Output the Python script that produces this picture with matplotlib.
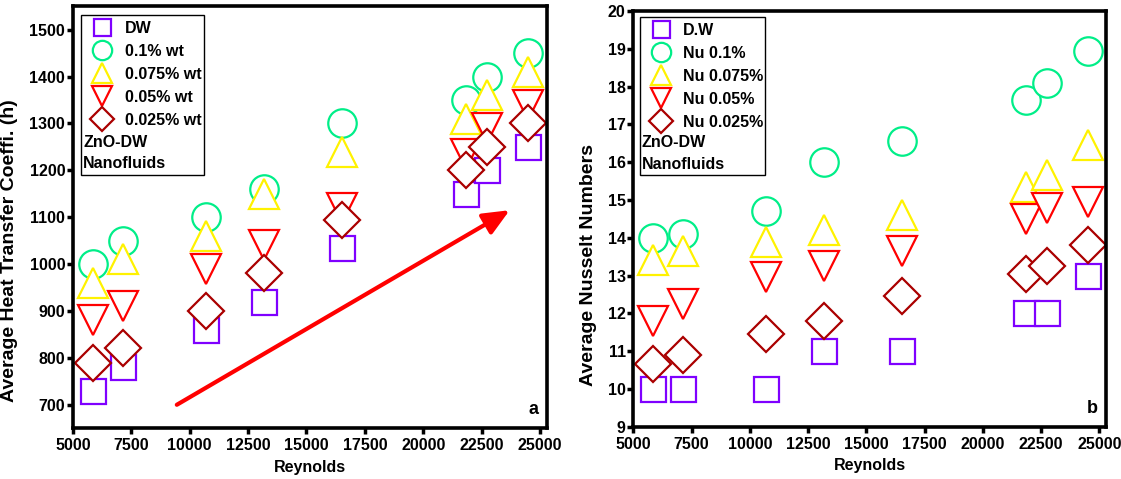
import matplotlib.pyplot as plt
from matplotlib.patches import Rectangle

plt.rcParams['font.family'] = ['Liberation Sans', 'DejaVu Sans']
plt.rcParams['font.weight'] = 'bold'
plt.rcParams['axes.labelweight'] = 'bold'

# Reynolds numbers shared by both panels
reynolds = [5850, 7130, 10680, 13200, 16540, 21840, 22740, 24500]

# Panel a: average heat transfer coefficient (h)
h_dw = [730, 780, 860, 920, 1035, 1150, 1200, 1250]
h_01 = [1000, 1050, 1100, 1160, 1300, 1350, 1400, 1450]
h_0075 = [960, 1010, 1060, 1150, 1240, 1310, 1360, 1410]
h_005 = [880, 910, 990, 1040, 1120, 1235, 1290, 1340]
h_0025 = [790, 822, 900, 980, 1095, 1200, 1250, 1300]

# Panel b: average Nusselt numbers
nu_dw = [10, 10, 10, 11, 11, 12, 12, 13]
nu_01 = [14.0, 14.1, 14.7, 16.0, 16.55, 17.65, 18.1, 18.95]
nu_0075 = [13.4, 13.65, 13.9, 14.2, 14.6, 15.35, 15.65, 16.45]
nu_005 = [11.8, 12.25, 12.95, 13.25, 13.65, 14.5, 14.8, 14.95]
nu_0025 = [10.65, 10.9, 11.45, 11.8, 12.45, 13.05, 13.25, 13.8]

labels_a = ['DW', '0.1% wt', '0.075% wt', '0.05% wt', '0.025% wt']
labels_b = ['D.W', 'Nu 0.1%', 'Nu 0.075%', 'Nu 0.05%', 'Nu 0.025%']

markers = ['s', 'o', '^', 'v', 'D']
sizes = [18, 20.5, 22, 22, 18]
colors = ['#7F00FF', '#00EE88', '#FFF200', '#FF0000', '#AA0000']

fig = plt.figure(figsize=(11.21, 4.79), dpi=100)
ax1 = fig.add_axes([0.065, 0.106, 0.423, 0.881])
ax2 = fig.add_axes([0.565, 0.109, 0.422, 0.868])


def draw_panel(ax, series, labels, ylim, yticks, ylabel, letter, leg_anchor, box, txt_y):
    for ys, lab, m, s, c in zip(series, labels, markers, sizes, colors):
        ax.plot(reynolds, ys, linestyle='none', marker=m, markersize=s,
                markerfacecolor='white', markeredgecolor=c, markeredgewidth=1.6,
                label=lab)
    ax.set_xlim(5000, 25300)
    ax.set_ylim(*ylim)
    ax.set_xticks(range(5000, 25001, 2500))
    ax.set_yticks(yticks)
    for sp in ax.spines.values():
        sp.set_linewidth(2.6)
    ax.tick_params(axis='both', direction='out', length=4, width=2.5,
                   labelsize=11.5, top=False, right=False)
    ax.tick_params(axis='x', pad=3)
    ax.tick_params(axis='y', pad=1.5)
    ax.set_xlabel('Reynolds', fontsize=11.5)
    ax.set_ylabel(ylabel, fontsize=14)
    ax.xaxis.set_label_coords(0.5, -0.075)

    ax.legend(loc='upper left', bbox_to_anchor=leg_anchor, frameon=False,
              fontsize=11.5, handlelength=1.5, handletextpad=0.65,
              labelspacing=0.5, borderpad=0, borderaxespad=0,
              markerscale=0.68)
    ax.add_patch(Rectangle((box[0], box[1]), box[2], box[3], transform=ax.transAxes,
                           fill=False, edgecolor='black', linewidth=1, zorder=5))
    ax.text(box[0] + 0.005, txt_y[0], 'ZnO-DW', transform=ax.transAxes,
            fontsize=11.5, va='center', ha='left')
    ax.text(box[0] + 0.005, txt_y[1], 'Nanofluids', transform=ax.transAxes,
            fontsize=11.5, va='center', ha='left')
    ax.text(0.981, 0.024, letter, transform=ax.transAxes, fontsize=13,
            ha='right', va='bottom')


draw_panel(ax1, [h_dw, h_01, h_0075, h_005, h_0025], labels_a,
           (650, 1550), range(700, 1501, 100),
           'Average Heat Transfer Coeffi. (h)', 'a',
           (0.037, 0.965), (0.017, 0.600, 0.26, 0.379), (0.678, 0.628))
ax1.yaxis.set_label_coords(-0.116, 0.42)

draw_panel(ax2, [nu_dw, nu_01, nu_0075, nu_005, nu_0025], labels_b,
           (9, 20), range(9, 21),
           'Average Nusselt Numbers', 'b',
           (0.033, 0.971), (0.013, 0.606, 0.266, 0.380), (0.683, 0.630))
ax2.yaxis.set_label_coords(-0.076, 0.39)

# trend arrow in panel a
ax1.annotate('', xy=(23700, 1115), xytext=(9450, 700),
             arrowprops=dict(arrowstyle='-|>,head_length=0.8,head_width=0.35',
                             color='red', lw=3, mutation_scale=20,
                             shrinkA=0, shrinkB=0))

fig.savefig('out.png', dpi=100)
